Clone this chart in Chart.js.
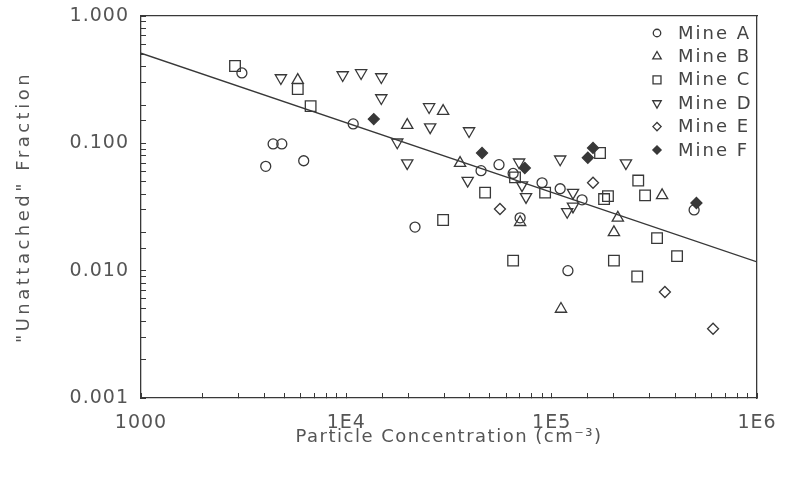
<!DOCTYPE html>
<html><head><meta charset="utf-8">
<script src="https://cdn.jsdelivr.net/npm/chart.js@4/dist/chart.umd.min.js"></script>
<style>html,body{margin:0;padding:0;background:#fff;}#wrap{width:787px;height:482px;}</style>
</head><body><div id="wrap"><canvas id="c" width="787" height="482"></canvas></div>
<script>
// ---- data ----
const seriesNames = ['Mine A','Mine B','Mine C','Mine D','Mine E','Mine F'];
const mineA = [[3100,0.357],[4400,0.099],[4850,0.099],[4050,0.066],[6200,0.073],[10800,0.142],[21600,0.022],[45300,0.061],[55400,0.068],[64900,0.058],[70200,0.026],[89800,0.049],[110000,0.044],[140600,0.036],[120000,0.010],[494000,0.030]];
const mineB = [[5800,0.314],[19800,0.139],[29600,0.179],[35800,0.070],[70200,0.024],[345000,0.039],[210000,0.026],[201000,0.020],[111000,0.005]];
const mineC = [[2870,0.405],[5800,0.267],[6700,0.196],[29600,0.025],[47400,0.041],[64900,0.012],[66300,0.054],[92900,0.041],[172000,0.084],[180000,0.0365],[188000,0.0385],[264000,0.051],[285000,0.039],[326000,0.018],[408000,0.013],[201000,0.012],[261000,0.009]];
const mineD = [[4800,0.326],[9600,0.344],[11800,0.357],[14800,0.332],[14800,0.227],[17700,0.102],[19800,0.070],[25300,0.193],[25600,0.134],[39600,0.125],[39000,0.051],[69400,0.071],[71700,0.047],[75000,0.038],[110000,0.075],[230000,0.070],[127000,0.041],[119000,0.029],[127000,0.032]];
const mineE = [[56000,0.0305],[159000,0.049],[356000,0.0068],[611000,0.0035]];
const mineF = [[13600,0.155],[45800,0.084],[74000,0.064],[150000,0.077],[159000,0.092],[507000,0.034]];
const fitLine = [[1000,0.51],[1000000,0.0117]];
const xTickValues = [1000,10000,100000,1000000];
const xTickLabels = ['1000','1E4','1E5','1E6'];
const yTickValues = [0.001,0.01,0.1,1];
const yTickLabels = ['0.001','0.010','0.100','1.000'];
const xTitle = 'Particle Concentration (cm\u207B\u00B3)';
const yTitle = '"Unattached" Fraction';

// ---- styling ----
const ink = '#383838';
const textCol = '#555555';
const FAMILY = '"DejaVu Sans", "Liberation Sans", sans-serif';
const markerStyles = [
  {pointStyle:'circle',  radius:5,   rotation:0,   filled:false},
  {pointStyle:'triangle',radius:6.5, rotation:0,   filled:false},
  {pointStyle:'rect',    radius:7.5, rotation:0,   filled:false},
  {pointStyle:'triangle',radius:6.5, rotation:180, filled:false},
  {pointStyle:'rectRot', radius:5.5, rotation:0,   filled:false},
  {pointStyle:'rectRot', radius:5.5, rotation:0,   filled:true}
];
const allSeries = [mineA, mineB, mineC, mineD, mineE, mineF];
const toPts = a => a.map(p => ({x:p[0], y:p[1]}));

const datasets = allSeries.map((s, i) => ({
  label: seriesNames[i],
  data: toPts(s),
  showLine: false,
  pointStyle: markerStyles[i].pointStyle,
  pointRadius: markerStyles[i].radius,
  pointRotation: markerStyles[i].rotation,
  pointBorderColor: ink,
  pointBorderWidth: 1.3,
  pointBackgroundColor: markerStyles[i].filled ? ink : 'rgba(255,255,255,0)',
  pointHoverRadius: markerStyles[i].radius
}));
datasets.push({
  label: 'fit',
  data: toPts(fitLine),
  showLine: true,
  borderColor: ink,
  borderWidth: 1.3,
  pointRadius: 0,
  fill: false
});

function labelFor(values, labels, v) {
  const i = values.findIndex(t => Math.abs(Math.log10(t) - Math.log10(v)) < 1e-6);
  return i >= 0 ? labels[i] : '';
}
function noPad(s) { s.paddingTop = 0; s.paddingBottom = 0; s.paddingLeft = 0; s.paddingRight = 0; }

// letter spacing per scale element (the reference uses a wide stroke font)
const spacingPlugin = {
  id: 'spacing',
  beforeDraw(chart) {
    const ctx = chart.ctx;
    Object.values(chart.scales).forEach(sc => {
      if (sc._wrapped) return;
      sc._wrapped = true;
      const t = sc.drawTitle, l = sc.drawLabels;
      const ts = sc.options._titleSpacing || '0px';
      const ls = sc.options._labelSpacing || '0px';
      sc.drawTitle = function(...a) { ctx.save(); ctx.letterSpacing = ts; t.apply(this, a); ctx.restore(); };
      sc.drawLabels = function(...a) { ctx.save(); ctx.letterSpacing = ls; l.apply(this, a); ctx.restore(); };
    });
  }
};

// legend drawn inside the plot at top-right, symbols from the library's drawPoint
const legendPlugin = {
  id: 'mineLegend',
  afterDatasetsDraw(chart) {
    const ctx = chart.ctx;
    const area = chart.chartArea;
    const sx = area.right - 100, tx = area.right - 79;
    ctx.save();
    ctx.font = '18px ' + FAMILY;
    ctx.textBaseline = 'middle';
    ctx.textAlign = 'left';
    try { ctx.letterSpacing = '2px'; } catch(e) {}
    seriesNames.forEach((name, i) => {
      const y = area.top + 17 + i * 23.4;
      const m = markerStyles[i];
      ctx.strokeStyle = ink;
      ctx.lineWidth = 1.3;
      ctx.fillStyle = m.filled ? ink : 'rgba(255,255,255,0)';
      Chart.helpers.drawPoint(ctx, {pointStyle: m.pointStyle, rotation: m.rotation, radius: m.radius * 0.75, borderWidth: 1.3}, sx, y);
      ctx.fillStyle = '#444';
      ctx.fillText(name, tx, y + 1);
    });
    ctx.restore();
  }
};

const tickFont = {family: FAMILY, size: 19};
const titleFont = {family: FAMILY, size: 18};

new Chart(document.getElementById('c'), {
  type: 'scatter',
  data: {datasets},
  options: {
    responsive: false,
    animation: false,
    devicePixelRatio: 1,
    layout: {padding: {left: 0, right: 30, top: 16, bottom: 0}},
    plugins: {legend: {display: false}, tooltip: {enabled: false}},
    scales: {
      x: {
        type: 'logarithmic', position: 'bottom', min: 1000, max: 1000000,
        afterFit(s) { s.height = 84; noPad(s); },
        _labelSpacing: '1px', _titleSpacing: '1.5px',
        ticks: {autoSkip: false, maxRotation: 0, minRotation: 0, color: textCol, font: tickFont, padding: 19,
          callback: v => labelFor(xTickValues, xTickLabels, v)},
        grid: {drawOnChartArea: false, drawTicks: true, tickLength: -5, color: ink, lineWidth: 1},
        border: {display: true, color: ink, width: 1.3},
        title: {display: true, text: xTitle, color: textCol, font: titleFont, padding: {top: 4, bottom: 34}}
      },
      y: {
        type: 'logarithmic', position: 'left', min: 0.001, max: 1,
        afterFit(s) { s.width = 141; noPad(s); },
        _labelSpacing: '1px', _titleSpacing: '3.5px',
        ticks: {autoSkip: false, color: textCol, font: tickFont, padding: 17,
          callback: v => labelFor(yTickValues, yTickLabels, v)},
        grid: {drawOnChartArea: false, drawTicks: true, tickLength: -5, color: ink, lineWidth: 1},
        border: {display: true, color: ink, width: 1.3},
        title: {display: true, text: yTitle, color: textCol, font: titleFont, padding: {top: 14, bottom: 4}}
      },
      x2: {
        type: 'logarithmic', position: 'top', min: 1000, max: 1000000,
        afterFit(s) { s.height = 0; noPad(s); },
        ticks: {display: false},
        grid: {drawOnChartArea: false, drawTicks: false},
        border: {display: true, color: ink, width: 1.3}
      },
      y2: {
        type: 'logarithmic', position: 'right', min: 0.001, max: 1,
        afterFit(s) { s.width = 0; noPad(s); },
        ticks: {display: false},
        grid: {drawOnChartArea: false, drawTicks: false},
        border: {display: true, color: ink, width: 1.3}
      }
    }
  },
  plugins: [spacingPlugin, legendPlugin]
});
</script>
</body></html>
